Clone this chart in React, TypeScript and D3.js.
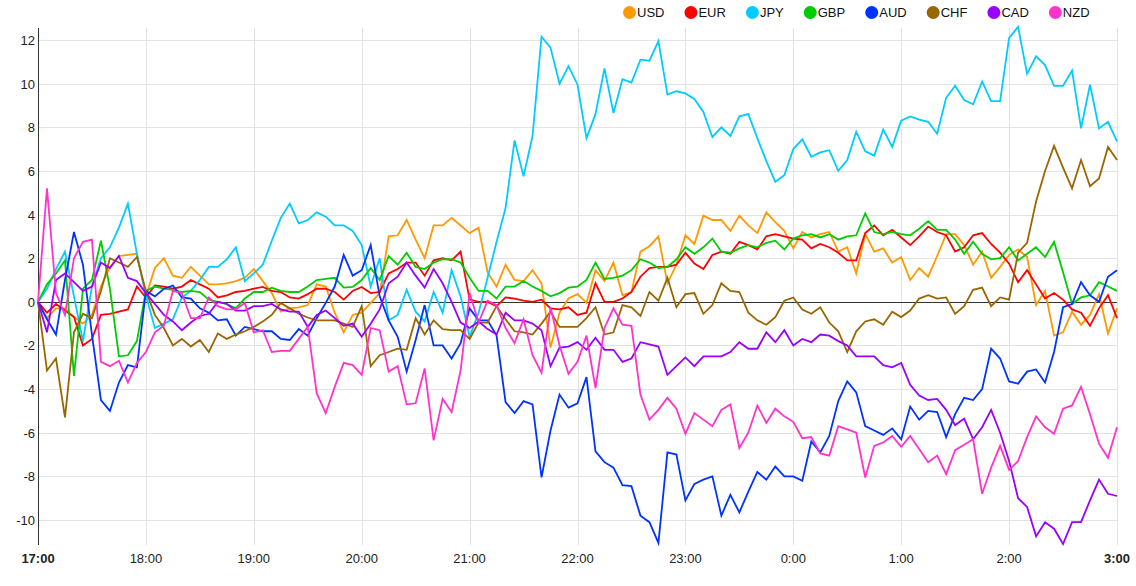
import * as d3 from "d3";
import { useEffect, useRef } from "react";

// 5-minute samples from 17:00 to 3:00
const startTime = new Date(2024, 0, 1, 17, 0);
const stepMinutes = 5;

const usd = [
  0, -0.75, -0.3, -0.3, -0.7, -1.0, -0.6, 0.7, 1.6, 2.1, 2.15, 2.2, 0.25, 1.55, 2.0, 1.2, 1.1, 1.6, 1.2, 0.8, 0.8, 0.85,
  0.95, 1.1, 1.5, 0.95, 0.4, -0.45, -0.3, -0.25, -0.15, 0.8, 0.7, -0.5, -1.4, -0.6, -0.5, -0.05, 0.4, 3.0, 3.05, 3.75, 2.85,
  2.0, 3.5, 3.5, 3.85, 3.5, 3.15, 3.4, 1.35, 0.7, 1.7, 1.0, 0.95, 1.45, 0.85, -2.1, -0.5, 0.15, 0.35, -0.05, 1.45, 0.95,
  1.8, 0.3, 0.45, 2.3, 2.55, 3.0, 0.85, 1.7, 3.05, 2.65, 3.95, 3.75, 3.75, 3.25, 3.95, 3.5, 3.15, 4.1, 3.65, 3.25, 2.45,
  3.2, 2.95, 3.1, 3.2, 2.3, 2.5, 1.3, 3.1, 2.3, 2.45, 1.8, 2.05, 1.0, 1.55, 1.15, 2.1, 3.1, 3.1, 2.6, 1.7, 2.3, 1.1,
  1.6, 2.15, 2.4, 2.05, -0.15, 0.5, -1.55, -1.4, -0.45, -1.05, -0.6, 0.35, -1.45, -0.3,
];
const eur = [
  0, -0.5, -0.1, -0.4, -0.7, -2.0, -1.7, -0.6, -0.55, -0.45, -0.35, 0.7, 0.2, 0.75, 0.7, 0.6, 0.7, 1.0, 0.8, 0.6, 0.2, 0.3,
  0.45, 0.5, 0.6, 0.68, 0.5, 0.45, 0.2, 0.15, 0.35, 0.6, 0.6, 0.45, 0.1, 0.5, 0.68, 0.4, 0.45, 1.3, 1.5, 1.8, 1.8,
  1.2, 1.9, 2.0, 1.9, 2.3, 0.1, 0, 0, -0.2, 0.2, 0.15, 0.05, 0, 0.1, -0.3, -0.35, -0.25, -0.6, -0.5, 0.85, 0,
  0, 0.15, 0.45, 1.15, 1.55, 1.6, 1.6, 1.7, 2.25, 1.75, 1.5, 2.15, 2.3, 2.2, 2.75, 2.6, 2.4, 3.0, 3.1, 3.0, 2.9,
  2.85, 2.45, 2.65, 2.5, 2.25, 1.9, 1.9, 3.15, 3.5, 3.05, 3.3, 2.95, 2.6, 3.0, 3.45, 3.2, 3.05, 2.3, 2.5, 3.05, 3.15, 2.65,
  2.25, 1.75, 0.9, 1.45, 0.8, 0.15, 0.4, 0.1, -0.35, -0.5, -1.1, -0.3, 0.3, -0.75,
];
const jpy = [
  0, 0.6, 1.5, 2.3, 0.25, -1.8, 0.7, 2.0, 2.5, 3.4, 4.5, 2.2, 0.3, -1.2, -1.0, -0.8, 0.2, 0.5, 1.0, 1.6, 1.6, 1.95,
  2.5, 0.95, 1.3, 1.7, 2.8, 3.85, 4.5, 3.6, 3.75, 4.1, 3.9, 3.5, 3.5, 3.25, 2.6, 0.7, 2.0, -0.85, -0.6, 0.55, -0.45,
  -0.9, 0.45, -0.5, 1.45, 0.25, -1.6, -0.5, 1.1, 2.75, 4.3, 7.4, 5.75, 7.6, 12.15, 11.65, 10.0, 10.8, 9.95, 7.5, 8.6, 10.7,
  8.65, 10.2, 10.05, 11.1, 11.05, 11.95, 9.5, 9.65, 9.55, 9.3, 8.7, 7.55, 8.0, 7.6, 8.5, 8.6, 7.5, 6.45, 5.5, 5.8, 7.0,
  7.45, 6.65, 6.85, 6.95, 6.0, 6.5, 7.8, 6.9, 6.7, 7.9, 7.1, 8.3, 8.5, 8.35, 8.25, 7.7, 9.35, 9.9, 9.25, 9.05, 10.1, 9.2,
  9.2, 12.1, 12.6, 10.45, 11.25, 10.85, 9.9, 9.9, 10.6, 7.95, 9.95, 7.95, 8.25, 7.35,
];
const gbp = [
  0, 0.8, 1.3, 1.9, -3.4, 0.6, 1.0, 2.8, 0.6, -2.5, -2.45, -1.8, 0.5, 0.7, 0.6, 0.55, 0.45, 0.5, 0.45, 0.1, 0, -0.1,
  -0.3, 0.15, 0.45, 0.45, 0.65, 0.5, 0.45, 0.45, 0.7, 1.0, 1.05, 1.1, 0.65, 0.68, 1.0, 1.55, 1.0, 2.1, 1.7, 2.25, 1.6,
  1.5, 1.8, 1.95, 1.95, 1.8, 1.1, 0.5, 0.5, 0.15, 0.7, 0.7, 0.95, 0.7, 0.5, 0.25, 0.4, 0.65, 0.7, 1.0, 1.8, 1.05,
  1.1, 1.2, 1.45, 1.95, 1.8, 1.55, 1.6, 1.95, 2.5, 2.2, 2.5, 2.9, 2.3, 2.25, 2.45, 2.6, 2.5, 2.7, 2.8, 2.4, 2.9,
  3.05, 3.1, 2.95, 3.1, 2.85, 3.0, 3.05, 4.05, 3.2, 3.1, 3.2, 3.1, 3.05, 3.35, 3.7, 3.3, 3.3, 2.85, 2.2, 2.75, 2.2, 1.95,
  2.0, 2.5, 1.9, 2.2, 2.5, 2.05, 2.75, 1.35, -0.1, 0.2, 0.3, 0.9, 0.7, 0.5,
];
const aud = [
  0, -0.8, -1.5, 1.0, 3.2, 1.7, -1.5, -4.5, -5.0, -3.7, -2.9, -3.0, 0.5, 0.25, 0.6, 0.75, 0.2, 0.15, -0.3, -0.5, -0.85, -0.8,
  -1.55, -1.15, -1.25, -1.35, -1.35, -1.7, -1.75, -1.25, -1.55, -0.75, -0.05, 0.7, 2.15, 1.2, 1.45, 2.6, 0.25, -0.85, -1.6, -3.2, -1.75,
  -0.15, -2.0, -2.0, -2.6, -1.9, -0.3, -0.85, -0.85, -1.55, -4.6, -5.1, -4.55, -4.7, -8.05, -5.9, -4.25, -4.85, -4.65, -3.45, -6.85, -7.35,
  -7.6, -8.4, -8.45, -9.8, -10.1, -11.05, -6.9, -7.0, -9.1, -8.35, -8.15, -8.0, -9.8, -8.85, -9.65, -8.7, -7.8, -8.15, -7.55, -8.0, -8.0,
  -8.2, -6.4, -6.9, -6.15, -4.55, -3.65, -4.15, -5.7, -5.9, -6.1, -5.8, -6.3, -4.8, -5.4, -5.0, -5.05, -6.2, -5.15, -4.4, -4.5, -4.0, -2.15,
  -2.6, -3.65, -3.75, -3.2, -3.1, -3.7, -2.3, -0.25, -0.1, 0.9, 0.3, 0, 1.15, 1.45,
];
const chf = [
  0, -3.15, -2.6, -5.3, -1.4, -0.55, -0.75, 0.5, 2.0, 1.8, 1.6, 2.05, 0.5, -0.6, -1.2, -2.0, -1.7, -2.05, -1.75, -2.3, -1.45, -1.7,
  -1.5, -1.35, -1.15, -0.9, -0.6, -0.05, -0.3, -0.55, -0.72, -0.85, -0.85, -0.85, -1.0, -1.15, -0.2, -2.95, -2.45, -2.3, -2.15, -2.2, -0.75,
  -1.5, -0.85, -1.25, -1.3, -1.3, -1.7, -0.95, -0.95, -0.2, -0.8, -1.35, -1.4, -1.5, -1.0, -0.45, -1.15, -1.15, -1.15, -0.75, -0.25, -1.5,
  -1.4, -0.15, -0.25, -0.65, 0.45, 0.05, 1.1, -0.25, 0.35, 0.4, -0.55, -0.15, 0.85, 0.5, 0.45, -0.5, -0.85, -1.05, -0.7, 0.05, 0.2,
  -0.35, -0.55, -0.25, -0.95, -1.35, -2.3, -1.35, -0.9, -0.8, -1.05, -0.45, -0.7, -0.4, 0.15, 0.3, 0.15, 0.2, -0.55, -0.2, 0.55, 0.65, -0.2,
  0.2, 0.1, 2.25, 2.7, 4.6, 6.0, 7.15, 6.15, 5.2, 6.5, 5.3, 5.65, 7.1, 6.5,
];
const cad = [
  0, -1.4, 1.0, 1.3, 0.9, 0.5, 0.7, 1.8, 1.55, 2.1, 1.1, 0.95, 0.4, -0.1, -0.6, -0.9, -1.3, -0.95, -0.65, -0.55, 0, -0.1,
  -0.4, -0.4, -0.2, -0.2, -0.1, -0.35, -0.45, -0.45, -1.15, -0.6, -0.4, -0.75, -1.1, -1.0, -1.6, -1.0, -0.35, 0.85, 1.15, 1.8, 1.2,
  0.65, 1.5, 0.85, 0, -0.95, -1.2, -0.9, -1.25, -1.5, -0.5, -0.85, -0.85, -1.0, -1.3, -2.95, -2.1, -2.05, -1.85, -2.2, -1.65, -2.2,
  -2.2, -2.75, -2.6, -1.85, -1.95, -2.05, -3.35, -2.95, -2.55, -2.95, -2.5, -2.5, -2.5, -2.3, -1.85, -2.15, -2.15, -1.4, -1.85, -1.3, -2.0,
  -1.7, -1.85, -1.5, -1.55, -1.8, -2.0, -2.5, -2.5, -2.5, -2.9, -3.0, -2.8, -3.8, -4.3, -4.5, -4.45, -4.95, -5.65, -5.35, -6.3, -5.75, -4.95,
  -6.0, -7.3, -9.0, -9.4, -10.75, -10.1, -10.4, -11.1, -10.1, -10.1, -9.1, -8.15, -8.8, -8.9,
];
const nzd = [
  0, 5.2, 0.4, -0.6, 2.0, 2.75, 2.85, -2.75, -2.95, -2.7, -3.7, -2.8, -2.3, -1.4, -1.1, 0.5, 0.4, -0.75, -0.75, 0.2, -0.2, -0.35,
  -0.35, -0.05, -1.4, -1.3, -2.3, -2.25, -2.25, -1.7, -1.15, -4.2, -5.1, -3.9, -2.8, -2.9, -3.35, -1.2, -1.3, -3.2, -2.95, -4.7, -4.65,
  -3.05, -6.35, -4.45, -5.05, -3.15, 0.4, -0.95, 0.05, -0.15, -1.2, -1.9, -0.8, -2.45, -3.25, -0.25, -2.0, -3.3, -2.75, -1.55, -3.95, -1.2,
  -0.3, -1.05, -1.1, -4.25, -5.4, -4.95, -4.4, -4.9, -6.05, -5.1, -5.4, -5.7, -4.95, -4.7, -6.7, -6.0, -4.75, -5.55, -4.9, -5.25, -5.5,
  -6.25, -6.2, -6.95, -7.05, -5.7, -5.85, -6.0, -8.05, -6.6, -6.45, -6.15, -6.65, -6.15, -6.75, -7.35, -7.05, -7.9, -6.8, -6.55, -6.3, -8.8, -7.6,
  -6.6, -7.7, -7.3, -6.2, -5.25, -5.75, -6.05, -4.9, -4.75, -3.9, -5.15, -6.5, -7.15, -5.75,
];

const currencies = ["USD", "EUR", "JPY", "GBP", "AUD", "CHF", "CAD", "NZD"];
const seriesValues = [usd, eur, jpy, gbp, aud, chf, cad, nzd];
const colors = ["#ff9900", "#ff0000", "#00ccff", "#00cc00", "#0033ff", "#996600", "#9900ff", "#ff33cc"];
const yTicks = [-10, -8, -6, -4, -2, 0, 2, 4, 6, 8, 10, 12];

type Point = { t: Date; v: number };

export default function App() {
  const svgRef = useRef<SVGSVGElement | null>(null);

  useEffect(() => {
    const svg = d3.select(svgRef.current);
    const width = 1136;
    const height = 586;
    const left = 38;
    const right = 1117;
    const top = 28;
    const bottom = 545;
    const font = "Arial, 'Liberation Sans', sans-serif";

    svg.selectAll("*").remove();
    svg.attr("width", width).attr("height", height);

    const endTime = d3.timeMinute.offset(startTime, stepMinutes * (usd.length - 1));
    const x = d3.scaleTime().domain([startTime, endTime]).range([left, right]);
    const y = d3.scaleLinear().domain([-10, 12]).range([520, 40]);

    // grid
    svg
      .append("g")
      .selectAll("line")
      .data(yTicks)
      .enter()
      .append("line")
      .attr("x1", left)
      .attr("x2", right)
      .attr("y1", (d) => Math.round(y(d)) + 0.5)
      .attr("y2", (d) => Math.round(y(d)) + 0.5)
      .attr("stroke", (d) => (d === 0 ? "none" : "#e3e3e3"));

    const hours = d3.timeHour.range(startTime, d3.timeMinute.offset(endTime, 1));
    svg
      .append("g")
      .selectAll("line")
      .data(hours.slice(1))
      .enter()
      .append("line")
      .attr("x1", (d) => Math.round(x(d)) + 0.5)
      .attr("x2", (d) => Math.round(x(d)) + 0.5)
      .attr("y1", top)
      .attr("y2", bottom)
      .attr("stroke", "#e3e3e3");

    // y labels
    svg
      .append("g")
      .selectAll("text")
      .data(yTicks)
      .enter()
      .append("text")
      .attr("x", 35)
      .attr("y", (d) => y(d) + 5)
      .attr("text-anchor", "end")
      .attr("font-family", font)
      .attr("font-size", "13px")
      .attr("fill", "#222")
      .text((d) => d);

    // x labels
    const fmt = d3.timeFormat("%-H:%M");
    svg
      .append("g")
      .selectAll("text")
      .data(hours)
      .enter()
      .append("text")
      .attr("x", (d) => x(d))
      .attr("y", 563)
      .attr("text-anchor", "middle")
      .attr("font-family", font)
      .attr("font-size", "13px")
      .attr("font-weight", (d, i) => (i === 0 || i === hours.length - 1 ? "bold" : "normal"))
      .attr("fill", "#222")
      .text((d) => fmt(d));

    // zero line and axis
    svg
      .append("line")
      .attr("x1", left)
      .attr("x2", right)
      .attr("y1", Math.round(y(0)) + 0.5)
      .attr("y2", Math.round(y(0)) + 0.5)
      .attr("stroke", "#333");
    svg
      .append("line")
      .attr("x1", left + 0.5)
      .attr("x2", left + 0.5)
      .attr("y1", top)
      .attr("y2", bottom)
      .attr("stroke", "#333");

    const line = d3
      .line<Point>()
      .x((d) => x(d.t))
      .y((d) => y(d.v));

    seriesValues.forEach((vals, k) => {
      const pts = vals.map((v, i) => ({ t: d3.timeMinute.offset(startTime, i * stepMinutes), v }));
      svg
        .append("path")
        .datum(pts)
        .attr("fill", "none")
        .attr("stroke", colors[k])
        .attr("stroke-width", 1.8)
        .attr("stroke-linejoin", "miter")
        .attr("d", line);
    });

    // legend
    const legend = svg.append("g");
    let cursor = 623;
    currencies.forEach((name, k) => {
      legend
        .append("circle")
        .attr("cx", cursor + 6.5)
        .attr("cy", 12.5)
        .attr("r", 6.5)
        .attr("fill", colors[k]);
      const label = legend
        .append("text")
        .attr("x", cursor + 14)
        .attr("y", 17)
        .attr("font-family", font)
        .attr("font-size", "13px")
        .attr("fill", "#111")
        .text(name);
      const w = (label.node() as SVGTextElement).getComputedTextLength();
      cursor += 14 + w + 20;
    });
  }, []);

  return <svg ref={svgRef} style={{ position: "absolute", left: 0, top: 0 }}></svg>;
}
